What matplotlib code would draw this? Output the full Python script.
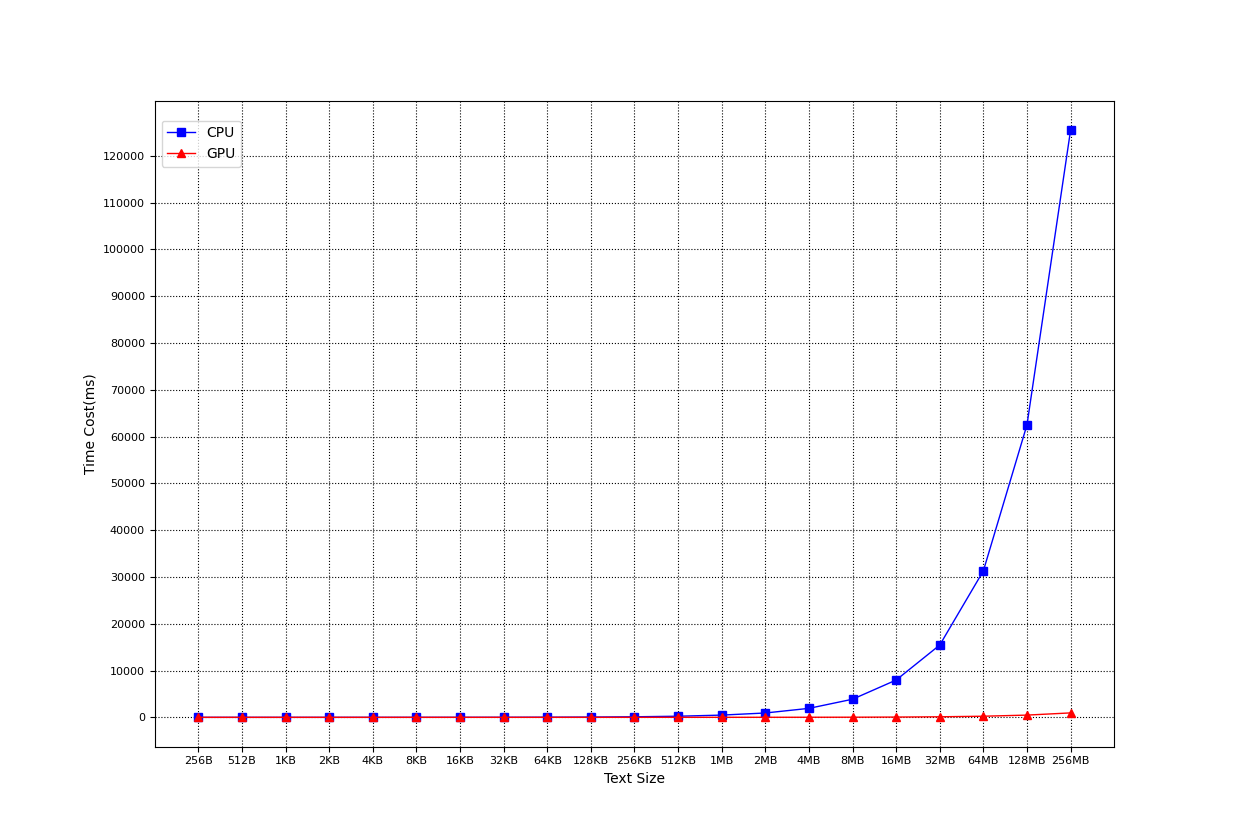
import matplotlib
matplotlib.use("Agg")
import matplotlib.pyplot as plt

sizes = ["256B", "512B", "1KB", "2KB", "4KB", "8KB", "16KB", "32KB", "64KB", "128KB",
         "256KB", "512KB", "1MB", "2MB", "4MB", "8MB", "16MB", "32MB", "64MB", "128MB", "256MB"]
cpu = [0.1, 0.2, 0.4, 0.8, 2, 4, 8, 15, 30, 60, 120, 240, 480, 930, 1920, 3870, 7970,
       15450, 31300, 62500, 125500]
gpu = [1, 1, 1, 1, 1, 1, 1, 1, 1, 2, 3, 5, 8, 12, 20, 30, 60, 120, 240, 480, 950]

fig = plt.figure(figsize=(12.38, 8.39), dpi=100)
ax = fig.add_subplot(111)
x = list(range(len(sizes)))
ax.plot(x, cpu, color="blue", marker="s", linewidth=1, markersize=6, label="CPU")
ax.plot(x, gpu, color="red", marker="^", linewidth=1, markersize=6, label="GPU")
ax.set_xticks(x)
ax.set_xticklabels(sizes, fontsize=8)
ax.set_yticks(range(0, 130000, 10000))
ax.tick_params(axis="y", labelsize=8)
ax.grid(True, color="black", linestyle=":", linewidth=0.8)
ax.set_xlabel("Text Size")
ax.set_ylabel("Time Cost(ms)")
ax.legend(loc="upper left", bbox_to_anchor=(0, 0.98))
fig.savefig("out.png", dpi=100)
